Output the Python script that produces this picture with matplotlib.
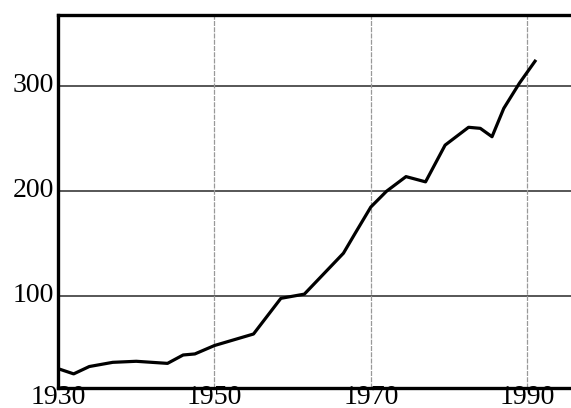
import matplotlib
matplotlib.use("Agg")
import matplotlib.pyplot as plt
from matplotlib.transforms import ScaledTranslation

# values
years = [1930, 1932, 1934, 1937, 1940, 1944, 1946, 1947.5, 1950, 1955,
         1958.5, 1961.5, 1966.5, 1968, 1970, 1972, 1974.5, 1977, 1979.5,
         1982.5, 1984, 1985.5, 1987, 1989, 1991]
values = [31, 26, 33, 37, 38, 36, 44, 45, 53, 64,
          98, 102, 141, 160, 185, 200, 214, 209, 244,
          261, 260, 252, 279, 303, 324]
x_ticks = [1930, 1950, 1970, 1990]
y_ticks = [100, 200, 300]

plt.rcParams['font.family'] = ['Liberation Serif', 'DejaVu Serif']

fig = plt.figure(figsize=(5.71, 4.08), dpi=100)
ax = fig.add_axes([0.1016, 0.0502, 0.8984, 0.913])

ax.plot(years, values, color='black', lw=2.3, solid_joinstyle='round', zorder=3)

ax.set_xlim(1930, 1995.6)
ax.set_ylim(13, 368)
ax.set_xticks(x_ticks)
ax.set_yticks(y_ticks)

# horizontal gridlines darker, vertical ones faint
for y in y_ticks:
    ax.axhline(y, color='#3a3a3a', lw=1.2, zorder=1)
for x in x_ticks[1:]:
    ax.axvline(x, color='#999999', lw=0.9, ls=(0, (4, 1)), zorder=1)

for side in ['left', 'bottom', 'top']:
    ax.spines[side].set_linewidth(2.4)
ax.spines['right'].set_visible(False)

ax.tick_params(axis='both', length=0, labelsize=20)
ax.tick_params(axis='x', pad=-2)
ax.tick_params(axis='y', pad=3)
for lab in ax.get_yticklabels():
    lab.set_verticalalignment('baseline')
    lab.set_transform(lab.get_transform() + ScaledTranslation(0, -4 / 72, fig.dpi_scale_trans))

fig.savefig('out.png', dpi=100)
